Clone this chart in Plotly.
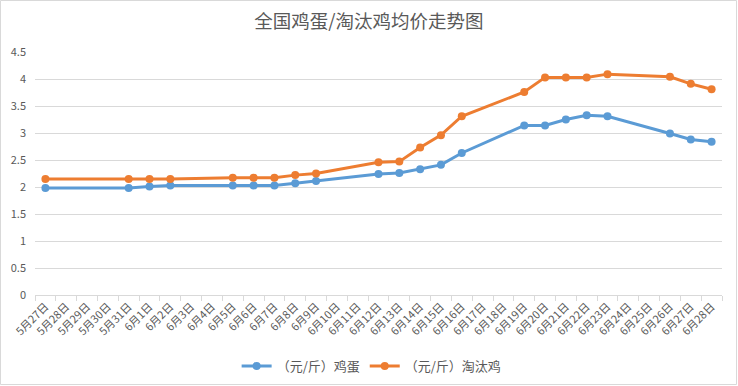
import plotly.graph_objects as go

# all category labels on the x axis
categories = ["5月27日", "5月28日", "5月29日", "5月30日", "5月31日"] + [f"6月{d}日" for d in range(1, 29)]

# dates with observations
dates = ["5月27日", "5月31日", "6月1日", "6月2日", "6月5日", "6月6日", "6月7日", "6月8日", "6月9日",
         "6月12日", "6月13日", "6月14日", "6月15日", "6月16日", "6月19日", "6月20日", "6月21日",
         "6月22日", "6月23日", "6月26日", "6月27日", "6月28日"]

egg = [1.98, 1.98, 2.01, 2.03, 2.03, 2.03, 2.03, 2.07, 2.11,
       2.24, 2.26, 2.33, 2.41, 2.63, 3.14, 3.14, 3.25, 3.33, 3.31, 2.99, 2.88, 2.84]

hen = [2.15, 2.15, 2.15, 2.15, 2.17, 2.17, 2.17, 2.22, 2.25,
       2.46, 2.47, 2.73, 2.96, 3.31, 3.76, 4.03, 4.03, 4.03, 4.09, 4.04, 3.91, 3.81]

names = ["（元/斤）鸡蛋", "（元/斤）淘汰鸡"]
colors = ["#5B9BD5", "#ED7D31"]

W, H = 738, 386
ml, mr, mt, mb = 35, 16, 52, 91

font = "Noto Sans CJK SC"
grey = "#595959"

fig = go.Figure()
for name, vals, c in zip(names, [egg, hen], colors):
    fig.add_trace(go.Scatter(
        x=dates, y=vals, name=name, mode="lines+markers",
        line=dict(color=c, width=3),
        marker=dict(color=c, size=8),
    ))

pw = W - ml - mr
ph = H - mt - mb
fig.update_layout(
    width=W, height=H,
    margin=dict(l=ml, r=mr, t=mt, b=mb, pad=0, autoexpand=False),
    paper_bgcolor="white", plot_bgcolor="white",
    font=dict(family=font, color=grey, size=11),
    title=dict(text="全国鸡蛋/淘汰鸡均价走势图", x=0.5, xanchor="center",
               y=1 - 22 / H, yanchor="middle", font=dict(size=18.5, color=grey, family=font)),
    xaxis=dict(type="category", categoryorder="array", categoryarray=categories,
               range=[-0.5, len(categories) - 0.5], automargin=False,
               tickmode="array", tickvals=categories, ticktext=categories,
               tickangle=-45, tickson="boundaries", ticks="outside", ticklen=5,
               tickcolor="#d9d9d9", showline=True, linecolor="#d9d9d9", linewidth=1,
               showgrid=False, tickfont=dict(size=11, color=grey), fixedrange=True),
    yaxis=dict(range=[0, 4.5], dtick=0.5, tick0=0, showgrid=True, gridcolor="#d9d9d9",
               gridwidth=1, zeroline=False, showline=False, ticks="", automargin=False,
               tickfont=dict(size=11, color=grey), ticklabelstandoff=8),
    legend=dict(orientation="h", x=0.49, xanchor="center", y=-(366 - (H - mb)) / ph,
                yanchor="middle", font=dict(size=13, color=grey, family=font),
                tracegroupgap=0),
    showlegend=True,
    shapes=[dict(type="rect", xref="paper", yref="paper",
                 x0=-ml / pw + 0.5 / pw, x1=1 + (mr - 1.5) / pw,
                 y0=-(mb - 1.5) / ph, y1=1 + (mt - 0.5) / ph,
                 line=dict(color="#d9d9d9", width=1), layer="below")],
)

fig.write_html("out.html", config={"displayModeBar": False},
               post_script="document.body.style.margin='0px';document.body.style.overflow='hidden';")
